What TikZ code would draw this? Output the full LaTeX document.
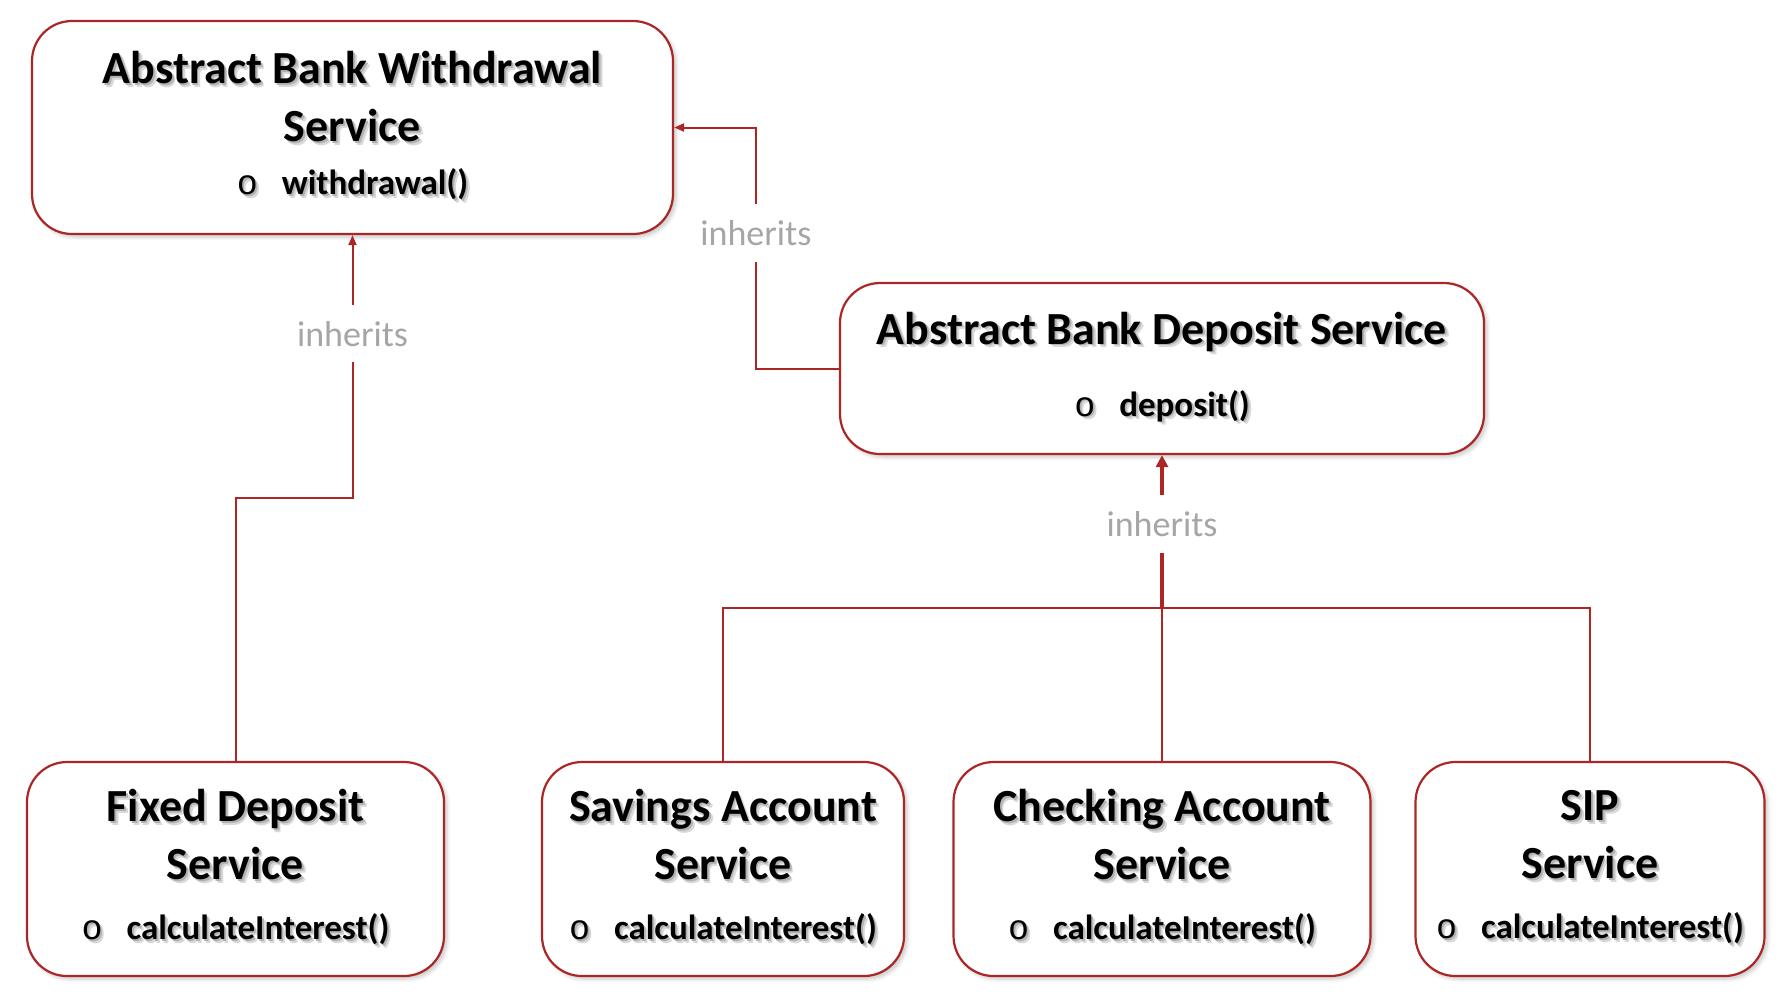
\documentclass[tikz,border=0pt]{standalone}
\usepackage{fontspec}
\setmainfont{Carlito}
\newfontfamily\bulletfont{Liberation Mono}
\usetikzlibrary{arrows.meta,shadows.blur}

\definecolor{boxred}{RGB}{172,38,38}
\definecolor{labelgray}{RGB}{166,166,166}

% soft text shadow
\newcommand{\shd}[1]{\makebox[0pt][l]{\hspace{1.8pt}\raisebox{-1.8pt}{\textcolor{black!15}{#1}}}\makebox[0pt][l]{\hspace{0.9pt}\raisebox{-0.9pt}{\textcolor{black!30}{#1}}}{#1}}
\newcommand{\meth}[1]{{\fontsize{17.5}{20}\selectfont\shd{{\bulletfont\mdseries o}}\hspace{12pt}\shd{#1}}}

\tikzset{
  svcbox/.style={draw=boxred, line width=1.1pt, rounded corners=20pt, fill=white,
    blur shadow={shadow xshift=1.5pt, shadow yshift=-1.5pt, shadow opacity=22, shadow blur steps=6},
    align=center, inner sep=0pt, font=\fontsize{23}{29}\selectfont\bfseries},
  link/.style={draw=boxred, line width=1pt},
  tip/.style={-{Triangle[length=5pt,width=4pt]}},
  inh/.style={fill=white, text=labelgray, font=\fontsize{18}{20}\selectfont, inner xsep=4pt, inner ysep=8pt},
}

\begin{document}
\begin{tikzpicture}[x=0.5pt,y=-0.5pt]
\useasboundingbox (0,0) rectangle (1786,998);

% parent services
\node[svcbox, minimum width=320.5pt, minimum height=106.5pt] (wd) at (352.5,127.5)
  {\shd{Abstract Bank Withdrawal}\\\shd{Service}\\[-2.5pt]\meth{withdrawal()}};
\node[svcbox, minimum width=322pt, minimum height=85.5pt] (dp) at (1162,368.5)
  {\shd{Abstract Bank Deposit Service}\\[7pt]\meth{deposit()}};

% concrete services
\node[svcbox, minimum width=208.5pt, minimum height=107pt] (fd) at (235.5,869)
  {\shd{Fixed Deposit}\\\shd{Service}\\[1pt]\meth{calculateInterest()}};
\node[svcbox, minimum width=181pt, minimum height=107pt] (sa) at (723,869)
  {\shd{Savings Account}\\\shd{Service}\\[1pt]\meth{calculateInterest()}};
\node[svcbox, minimum width=208.5pt, minimum height=107pt] (ca) at (1162,869)
  {\shd{Checking Account}\\\shd{Service}\\[1pt]\meth{calculateInterest()}};
\node[svcbox, minimum width=174.5pt, minimum height=107pt] (sip) at (1590,869)
  {\shd{SIP}\\\shd{Service}\\[1pt]\meth{calculateInterest()}};

\coordinate (j1) at (wd.south |- 0,498);
\coordinate (j3) at (dp.south |- 0,608);

% inheritance links
\draw[link, tip] (fd.north) |- (j1) -- node[inh, pos=0.625] {inherits} (wd.south);
\draw[link, tip] (dp.west) -- ++(-83,0) |- node[inh, pos=0.281] {inherits} (wd.east);
\draw[link] (sa.north) |- (j3) -| (sip.north);
\draw[link] (ca.north) -- (j3);
\draw[link, line width=2pt, -{Triangle[length=6pt,width=6pt]}] (j3) -- node[inh, pos=0.55] {inherits} (dp.south);
\end{tikzpicture}
\end{document}
